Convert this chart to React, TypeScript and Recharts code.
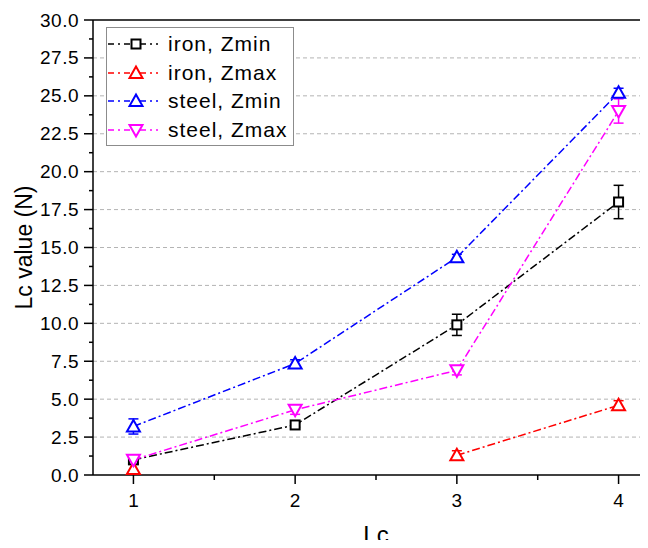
import React from "react";
import { LineChart, Line, XAxis, YAxis, ErrorBar, ReferenceLine } from "recharts";

// x positions (Lc)
const lcValues = [1, 2, 3, 4];
const xMinorTicks = [1.5, 2.5, 3.5];

// series values
const ironZmin = [1.0, 3.3, 9.9, 18.0];
const ironZminErr = [0.2, 0.15, 0.7, 1.1];
const ironZmax = [0.4, null, 1.3, 4.6];
const ironZmaxErr = [0.3, null, 0.3, 0.3];
const steelZmin = [3.2, 7.35, 14.35, 25.2];
const steelZminErr = [0.5, 0.25, 0.2, 0.3];
const steelZmax = [1.0, 4.3, 6.9, 24.0];
const steelZmaxErr = [0.25, 0.3, 0.3, 0.8];

// y axis ticks
const yMajorTicks = [0, 2.5, 5, 7.5, 10, 12.5, 15, 17.5, 20, 22.5, 25, 27.5, 30];
const yMinorTicks = [1.25, 3.75, 6.25, 8.75, 11.25, 13.75, 16.25, 18.75, 21.25, 23.75, 26.25, 28.75];
const gridValues = [2.5, 5, 7.5, 10, 12.5, 15, 17.5, 20, 22.5, 25, 27.5];

const FONT = "'Liberation Sans', Arial, sans-serif";

const data = lcValues.map((lc, i) => ({
  lc,
  ironZmin: ironZmin[i],
  ironZminErr: ironZminErr[i],
  ironZmax: ironZmax[i],
  ironZmaxErr: ironZmaxErr[i],
  steelZmin: steelZmin[i],
  steelZminErr: steelZminErr[i],
  steelZmax: steelZmax[i],
  steelZmaxErr: steelZmaxErr[i],
}));

const series = [
  { key: "ironZmin", name: "iron, Zmin", color: "#000000", shape: "square" },
  { key: "ironZmax", name: "iron, Zmax", color: "#ff0000", shape: "up" },
  { key: "steelZmin", name: "steel, Zmin", color: "#0000ff", shape: "up" },
  { key: "steelZmax", name: "steel, Zmax", color: "#ff00ff", shape: "down" },
];

const DASH = "8 3 2 3";

function Marker({ cx, cy, color, shape }: any) {
  if (cx == null || cy == null) return <g />;
  if (shape === "square") {
    return <rect x={cx - 4.5} y={cy - 4.5} width={9} height={9} fill="#fff" stroke={color} strokeWidth={2} />;
  }
  if (shape === "up") {
    const pts = `${cx},${cy - 6.5} ${cx - 6.5},${cy + 5} ${cx + 6.5},${cy + 5}`;
    return <polygon points={pts} fill="#fff" stroke={color} strokeWidth={2} />;
  }
  const pts = `${cx},${cy + 6.5} ${cx - 6.5},${cy - 5} ${cx + 6.5},${cy - 5}`;
  return <polygon points={pts} fill="#fff" stroke={color} strokeWidth={2} />;
}

const YTick = ({ x, y, payload }: any) => {
  const major = yMajorTicks.includes(payload.value);
  return (
    <g>
      <line x1={x - (major ? 9 : 4)} y1={y} x2={x} y2={y} stroke="#000" strokeWidth={1.5} />
      {major && (
        <text x={x - 14} y={y + 6.5} textAnchor="end" fontSize={19} letterSpacing={0.5} fontFamily={FONT} fill="#000">
          {payload.value.toFixed(1)}
        </text>
      )}
    </g>
  );
};

const XTick = ({ x, y, payload }: any) => {
  const major = lcValues.includes(payload.value);
  return (
    <g>
      <line x1={x} y1={y} x2={x} y2={y + (major ? 9 : 5)} stroke="#000" strokeWidth={1.5} />
      {major && (
        <text x={x} y={y + 31.5} textAnchor="middle" fontSize={19} fontFamily={FONT} fill="#000">
          {payload.value}
        </text>
      )}
    </g>
  );
};

function LegendBox() {
  return (
    <div
      style={{
        position: "absolute",
        left: 106,
        top: 27,
        width: 188,
        height: 119,
        border: "1px solid #8c8c8c",
        background: "#fff",
        fontFamily: FONT,
        fontSize: 21,
        letterSpacing: 1,
        boxSizing: "border-box",
        paddingTop: 2,
      }}
    >
      {series.map((s) => (
        <div key={s.key} style={{ display: "flex", alignItems: "center", height: 28.5 }}>
          <svg width={60} height={20} style={{ flex: "none" }}>
            <line x1={1} y1={10} x2={51} y2={10} stroke={s.color} strokeWidth={1.5} strokeDasharray="6 4 2 4" />
            <Marker cx={29} cy={10} color={s.color} shape={s.shape} />
          </svg>
          <span style={{ marginLeft: 1, color: "#000", whiteSpace: "nowrap" }}>{s.name}</span>
        </div>
      ))}
    </div>
  );
}

export default function App() {
  return (
    <div style={{ position: "relative", width: 648, height: 548, margin: -8, overflow: "hidden", background: "#fff" }}>
      <LineChart width={680} height={548} data={data} margin={{ top: 20, right: 21, bottom: 0, left: 0 }}>
        {gridValues.map((v) => (
          <ReferenceLine key={v} y={v} stroke="#b4b4b4" strokeDasharray="4 3" strokeWidth={1} />
        ))}
        <ReferenceLine y={30} stroke="#000" strokeWidth={1.5} />
        <XAxis
          dataKey="lc"
          type="number"
          domain={[0.75, 4.25]}
          ticks={[...lcValues, ...xMinorTicks]}
          interval={0}
          height={73}
          tickSize={0}
          tickMargin={0}
          tickLine={false}
          axisLine={{ stroke: "#000", strokeWidth: 1.5 }}
          tick={<XTick />}
          label={({ viewBox }: any) => (
            <text x={viewBox.x + viewBox.width / 2} y={543} textAnchor="middle" fontSize={24} fontFamily={FONT} fill="#000">
              Lc
            </text>
          )}
        />
        <YAxis
          type="number"
          domain={[0, 30]}
          ticks={[...yMajorTicks, ...yMinorTicks]}
          interval={0}
          width={93}
          tickSize={0}
          tickMargin={0}
          tickLine={false}
          axisLine={{ stroke: "#000", strokeWidth: 1.5 }}
          tick={<YTick />}
          label={({ viewBox }: any) => {
            const cy = viewBox.y + viewBox.height / 2;
            return (
              <text
                x={32}
                y={cy}
                transform={`rotate(-90 32 ${cy})`}
                textAnchor="middle"
                fontSize={23}
                fontFamily={FONT}
                fill="#000"
              >
                Lc value (N)
              </text>
            );
          }}
        />
        {series.map((s) => (
          <Line
            key={s.key}
            dataKey={s.key}
            name={s.name}
            stroke={s.color}
            strokeWidth={1.5}
            strokeDasharray={DASH}
            connectNulls={false}
            isAnimationActive={false}
            dot={(p: any) => <Marker key={`${s.key}-${p.index}`} cx={p.cx} cy={p.cy} color={s.color} shape={s.shape} />}
          >
            <ErrorBar dataKey={`${s.key}Err`} direction="y" width={5} stroke={s.color} strokeWidth={1.5} />
          </Line>
        ))}
      </LineChart>
      <LegendBox />
    </div>
  );
}
